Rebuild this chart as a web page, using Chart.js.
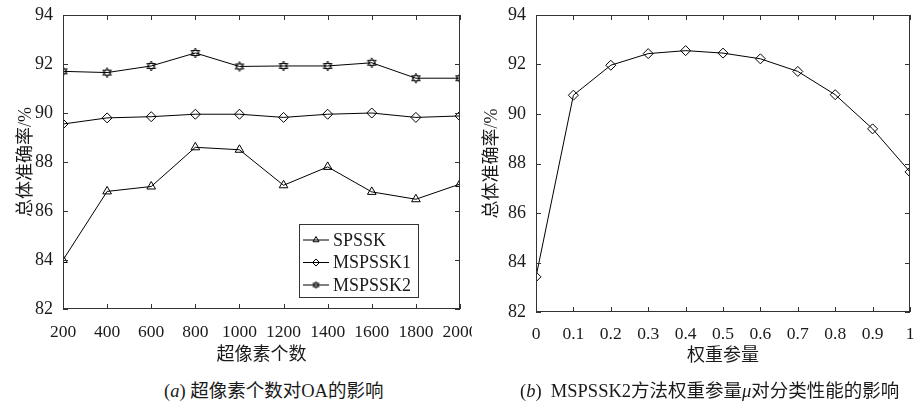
<!DOCTYPE html>
<html>
<head>
<meta charset="utf-8">
<script src="https://cdn.jsdelivr.net/npm/chart.js@4.4.1/dist/chart.umd.min.js"></script>
<style>
  body { margin: 0; background: #fff; width: 916px; height: 401px; position: relative; overflow: hidden;
         font-family: 'Liberation Serif', 'Noto Sans CJK SC', serif; color: #1a1a1a; }
  .box { position: absolute; top: 0; height: 370px; }
  .cap { position: absolute; top: 376px; font-size: 18.5px; white-space: nowrap; }
</style>
</head>
<body>
<div class="box" style="left:0;width:472px"><canvas id="chartA"></canvas></div>
<div class="box" style="left:466px;width:450px"><canvas id="chartB"></canvas></div>
<div class="cap" style="left:164px">(<i>a</i>) 超像素个数对OA的影响</div>
<div class="cap" style="left:520px">(<i>b</i>)&nbsp; MSPSSK2方法权重参量<i>μ</i>对分类性能的影响</div>

<script>
// (a) 超像素个数
const superpixels = [200, 400, 600, 800, 1000, 1200, 1400, 1600, 1800, 2000]
const spssk   = [84.0, 86.8, 87.0, 88.6, 88.5, 87.05, 87.8, 86.78, 86.48, 87.1]
const mspssk1 = [89.55, 89.8, 89.85, 89.95, 89.95, 89.82, 89.95, 90.0, 89.82, 89.88]
const mspssk2 = [91.7, 91.65, 91.92, 92.45, 91.9, 91.92, 91.92, 92.05, 91.42, 91.42]

// (b) 权重参量
const weights  = [0, 0.1, 0.2, 0.3, 0.4, 0.5, 0.6, 0.7, 0.8, 0.9, 1]
const weightOA = [83.42, 90.76, 91.97, 92.44, 92.56, 92.46, 92.23, 91.72, 90.78, 89.4, 87.66]

const yMin = 82, yMax = 94, yStep = 2

const serif = "'Liberation Serif', 'Noto Sans CJK SC', serif"
const ink = '#1a1a1a'

// 六角星 marker
function hexagram(r) {
    const c = document.createElement('canvas')
    const s = Math.ceil(r * 2 + 2)
    c.width = c.height = s
    const g = c.getContext('2d')
    g.strokeStyle = '#000'
    g.lineWidth = 0.9
    for (const rot of [-Math.PI / 2, Math.PI / 2]) {
        g.beginPath()
        for (let i = 0; i < 3; i++) {
            const a = rot + i * 2 * Math.PI / 3
            const x = s / 2 + r * Math.cos(a), y = s / 2 + r * Math.sin(a)
            i ? g.lineTo(x, y) : g.moveTo(x, y)
        }
        g.closePath()
        g.stroke()
    }
    return c
}
const starBig = hexagram(5)
const starSmall = hexagram(3.5)

const pts = (xs, ys) => xs.map((x, i) => ({x: x, y: ys[i]}))

// box + inward ticks on all four sides
const framePlugin = {
    id: 'frame',
    afterDraw(chart) {
        const {ctx, chartArea: a, scales: {x, y}} = chart
        ctx.save()
        ctx.strokeStyle = '#333'
        ctx.lineWidth = 1
        ctx.strokeRect(a.left + 0.5, a.top + 0.5, a.right - a.left - 1, a.bottom - a.top - 1)
        ctx.beginPath()
        x.ticks.forEach(t => {
            const px = Math.round(x.getPixelForValue(t.value)) + 0.5
            ctx.moveTo(px, a.bottom); ctx.lineTo(px, a.bottom - 5)
            ctx.moveTo(px, a.top); ctx.lineTo(px, a.top + 5)
        })
        y.ticks.forEach(t => {
            const py = Math.round(y.getPixelForValue(t.value)) + 0.5
            ctx.moveTo(a.left, py); ctx.lineTo(a.left + 5, py)
            ctx.moveTo(a.right, py); ctx.lineTo(a.right - 5, py)
        })
        ctx.stroke()
        ctx.restore()
    }
}

// legend box inside the plot
const boxLegend = {
    id: 'boxLegend',
    afterDraw(chart, args, opts) {
        if (!opts.show) return
        const {ctx, chartArea: a} = chart
        const w = 119, h = 73
        const left = a.right - 42 - w, top = a.bottom - 12 - h
        ctx.save()
        ctx.fillStyle = '#fff'
        ctx.fillRect(left, top, w, h)
        ctx.strokeStyle = '#333'
        ctx.lineWidth = 1
        ctx.strokeRect(left + 0.5, top + 0.5, w, h)
        chart.data.datasets.forEach((ds, i) => {
            const cy = top + 16 + i * 22.5
            ctx.strokeStyle = '#000'
            ctx.beginPath()
            ctx.moveTo(left + 4, cy); ctx.lineTo(left + 30, cy)
            ctx.stroke()
            const style = ds.legendStyle
            if (style instanceof HTMLCanvasElement) {
                ctx.drawImage(style, left + 17 - style.width / 2, cy - style.height / 2)
            } else {
                ctx.fillStyle = 'rgba(0,0,0,0)'
                Chart.helpers.drawPoint(ctx, {pointStyle: style, radius: 3.5, rotation: 0, borderWidth: 1}, left + 17, cy)
            }
            ctx.fillStyle = ink
            ctx.font = '18px ' + serif
            ctx.textBaseline = 'middle'
            ctx.fillText(ds.label, left + 34, cy + 1)
        })
        ctx.restore()
    }
}

function lineSet(label, data, style, radius, legendStyle) {
    return {
        label: label,
        data: data,
        borderColor: '#000',
        borderWidth: 1,
        pointStyle: style,
        pointRadius: radius,
        pointBorderColor: '#000',
        pointBackgroundColor: 'rgba(0,0,0,0)',
        pointBorderWidth: 1,
        tension: 0,
        legendStyle: legendStyle
    }
}

function makeOptions(xCfg, yWidth, xHeight, pad, showLegend) {
    return {
        responsive: true,
        maintainAspectRatio: false,
        animation: false,
        layout: {padding: pad},
        plugins: {legend: {display: false}, tooltip: {enabled: false}, boxLegend: {show: showLegend}},
        scales: {
            x: Object.assign({
                type: 'linear',
                grid: {display: false, drawTicks: false},
                border: {display: false},
                afterFit: s => { s.height = xHeight; s.paddingLeft = 0; s.paddingRight = 0 }
            }, xCfg),
            y: {
                min: yMin, max: yMax,
                grid: {display: false, drawTicks: false},
                border: {display: false},
                ticks: {stepSize: yStep, padding: 10, color: ink, font: {family: serif, size: 18}},
                title: {display: true, text: '总体准确率/%', color: ink, font: {family: serif, size: 18}, padding: {top: 15, bottom: 0}},
                afterFit: s => { s.width = yWidth; s.paddingTop = 0; s.paddingBottom = 0 }
            }
        }
    }
}

new Chart(document.getElementById('chartA'), {
    type: 'line',
    data: {
        datasets: [
            lineSet('SPSSK', pts(superpixels, spssk), 'triangle', 5, 'triangle'),
            lineSet('MSPSSK1', pts(superpixels, mspssk1), 'rectRot', 5, 'rectRot'),
            lineSet('MSPSSK2', pts(superpixels, mspssk2), starBig, 5, starSmall)
        ]
    },
    options: makeOptions({
        min: 200, max: 2000,
        ticks: {stepSize: 200, autoSkip: false, maxRotation: 0, padding: 13, color: ink,
                font: {family: serif, size: 17.5}, callback: v => String(v)},
        title: {display: true, text: '超像素个数', color: ink, font: {family: serif, size: 18}, padding: {top: 0, bottom: 4}}
    }, 63, 61, {top: 15, right: 12, left: 0, bottom: 0}, true),
    plugins: [framePlugin, boxLegend]
})

new Chart(document.getElementById('chartB'), {
    type: 'line',
    data: {
        datasets: [
            lineSet('MSPSSK2', pts(weights, weightOA), 'rectRot', 5, 'rectRot')
        ]
    },
    options: makeOptions({
        min: 0, max: 1,
        ticks: {stepSize: 0.1, autoSkip: false, maxRotation: 0, padding: 12, color: ink,
                font: {family: serif, size: 17.5}, callback: v => String(Math.round(v * 10) / 10)},
        title: {display: true, text: '权重参量', color: ink, font: {family: serif, size: 18}, padding: {top: 0, bottom: 3}}
    }, 70, 58, {top: 15, right: 2, left: 0, bottom: 0}, false),
    plugins: [framePlugin, boxLegend]
})
</script>
</body>
</html>
